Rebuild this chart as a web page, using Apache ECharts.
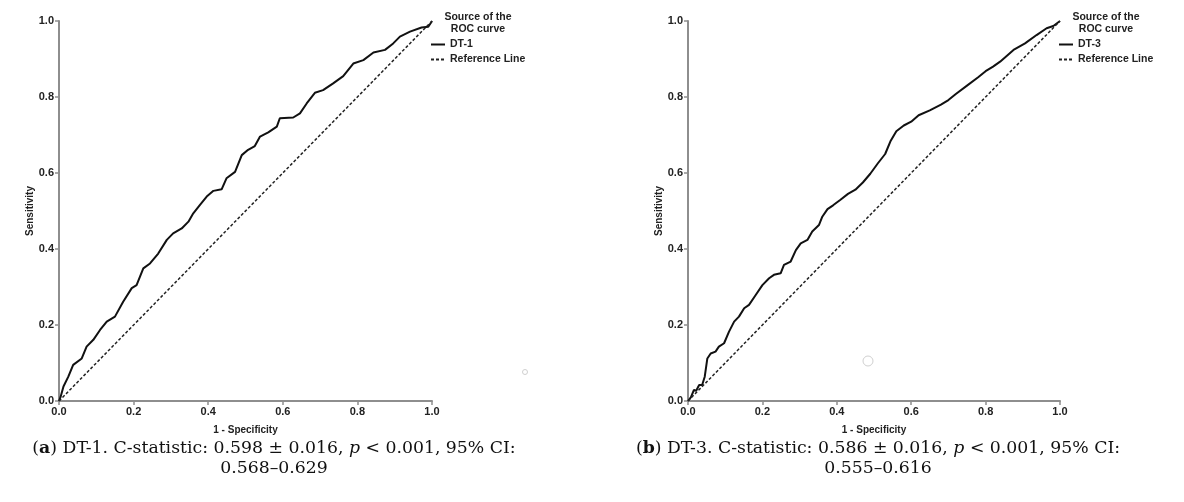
<!DOCTYPE html>
<html>
<head>
<meta charset="utf-8">
<script src="https://cdn.jsdelivr.net/npm/echarts@6/dist/echarts.min.js"></script>
<style>
  html, body { margin: 0; padding: 0; background: #fff; }
  #chart { width: 1184px; height: 502px; }
</style>
</head>
<body>
<div id="chart"></div>
<script>
// ROC curve of DT-1: false positive rate (1 - specificity) and sensitivity
const dt1Fpr = [0, 0.004, 0.012, 0.025, 0.038, 0.061, 0.074, 0.092, 0.110, 0.128, 0.150, 0.172, 0.195, 0.208, 0.226, 0.244, 0.266, 0.289, 0.306, 0.329, 0.347, 0.360, 0.378, 0.396, 0.414, 0.436, 0.449, 0.472, 0.490, 0.507, 0.525, 0.539, 0.561, 0.584, 0.592, 0.628, 0.646, 0.664, 0.686, 0.708, 0.735, 0.762, 0.789, 0.816, 0.843, 0.874, 0.896, 0.914, 0.941, 0.972, 0.990, 0.999, 1];
const dt1Tpr = [0, 0.010, 0.038, 0.064, 0.095, 0.112, 0.143, 0.161, 0.187, 0.209, 0.222, 0.261, 0.297, 0.305, 0.349, 0.362, 0.388, 0.424, 0.441, 0.454, 0.472, 0.494, 0.516, 0.538, 0.553, 0.557, 0.586, 0.603, 0.647, 0.661, 0.671, 0.696, 0.707, 0.722, 0.744, 0.746, 0.757, 0.783, 0.811, 0.818, 0.836, 0.855, 0.888, 0.897, 0.917, 0.924, 0.941, 0.959, 0.972, 0.983, 0.985, 0.998, 1];

// ROC curve of DT-3
const dt3Fpr = [0, 0.008, 0.016, 0.022, 0.030, 0.038, 0.045, 0.052, 0.061, 0.074, 0.083, 0.097, 0.110, 0.124, 0.137, 0.151, 0.164, 0.182, 0.200, 0.218, 0.231, 0.249, 0.258, 0.276, 0.290, 0.303, 0.321, 0.334, 0.352, 0.361, 0.375, 0.390, 0.409, 0.430, 0.450, 0.470, 0.490, 0.510, 0.530, 0.545, 0.560, 0.580, 0.600, 0.620, 0.650, 0.680, 0.700, 0.720, 0.750, 0.780, 0.800, 0.820, 0.839, 0.875, 0.906, 0.937, 0.964, 0.982, 1];
const dt3Tpr = [0, 0.010, 0.029, 0.027, 0.042, 0.042, 0.064, 0.112, 0.125, 0.130, 0.143, 0.152, 0.182, 0.209, 0.222, 0.244, 0.253, 0.279, 0.305, 0.323, 0.332, 0.336, 0.358, 0.367, 0.397, 0.415, 0.424, 0.446, 0.463, 0.485, 0.505, 0.515, 0.529, 0.545, 0.556, 0.575, 0.598, 0.625, 0.650, 0.685, 0.710, 0.725, 0.735, 0.752, 0.765, 0.780, 0.792, 0.808, 0.830, 0.852, 0.868, 0.880, 0.893, 0.924, 0.941, 0.963, 0.981, 0.987, 1];

// Chance diagonal
const refX = [0, 1];
const refY = [0, 1];

const axisTicks = [0, 0.2, 0.4, 0.6, 0.8, 1.0];

const captionA = ['a', 'DT-1. C-statistic: 0.598 ± 0.016, ', 'p', ' < 0.001, 95% CI:', '0.568–0.629'];
const captionB = ['b', 'DT-3. C-statistic: 0.586 ± 0.016, ', 'p', ' < 0.001, 95% CI:', '0.555–0.616'];

const zip = (xs, ys) => xs.map((x, i) => [x, ys[i]]);

const SANS = '"Liberation Sans", Arial, sans-serif';
const SERIF = '"DejaVu Serif", "Liberation Serif", serif';
const axisGrey = '#8e8e8e';

function valueAxis(gridIndex, isX) {
  return {
    type: 'value',
    gridIndex: gridIndex,
    min: axisTicks[0],
    max: axisTicks[axisTicks.length - 1],
    interval: 0.2,
    name: isX ? '1 - Specificity' : 'Sensitivity',
    nameLocation: 'middle',
    nameGap: isX ? 24 : 23,
    nameTextStyle: { fontFamily: SANS, fontWeight: 'bold', fontSize: 10, color: '#222' },
    axisLine: { show: true, lineStyle: { color: axisGrey, width: 2 } },
    axisTick: { show: true, length: 4, lineStyle: { color: axisGrey, width: 1.5 } },
    axisLabel: {
      margin: 5,
      fontFamily: SANS, fontWeight: 'bold', fontSize: 11, color: '#222',
      formatter: v => v.toFixed(1)
    },
    splitLine: { show: false }
  };
}

function rocSeries(name, idx, data) {
  return {
    name: name, type: 'line', xAxisIndex: idx, yAxisIndex: idx,
    data: data, showSymbol: false, symbol: 'none', silent: true,
    itemStyle: { color: '#111' },
    lineStyle: { color: '#111', width: 2 }
  };
}
function refSeries(idx) {
  return {
    name: 'Reference Line', type: 'line', xAxisIndex: idx, yAxisIndex: idx,
    data: zip(refX, refY), showSymbol: false, symbol: 'none', silent: true,
    itemStyle: { color: '#222' },
    lineStyle: { color: '#222', width: 1.5, type: [3, 2] }
  };
}

function legendBlock(left, names) {
  return {
    orient: 'vertical', left: left, top: 39, padding: 0,
    itemWidth: 14, itemHeight: 10, itemGap: 4,
    itemStyle: { opacity: 0 },
    data: names,
    textStyle: { fontFamily: SANS, fontWeight: 'bold', fontSize: 10.5, color: '#222' },
    selectedMode: false
  };
}

function caption(cx, parts) {
  return {
    type: 'text', x: cx, y: 439,
    style: {
      text: '({b|' + parts[0] + '}) ' + parts[1] + '{i|' + parts[2] + '}' + parts[3] + '\n' + parts[4],
      align: 'center', verticalAlign: 'top',
      fontFamily: SERIF, fontSize: 17.3, lineHeight: 19.5, fill: '#111',
      rich: {
        b: { fontFamily: SERIF, fontSize: 17.3, fontWeight: 'bold', fill: '#111' },
        i: { fontFamily: SERIF, fontSize: 17.3, fontStyle: 'italic', fill: '#111' }
      }
    }
  };
}

function legendTitle(cx) {
  return {
    type: 'text', x: cx, y: 11,
    style: {
      text: 'Source of the\nROC curve', align: 'center',
      fontFamily: SANS, fontWeight: 'bold', fontSize: 10.5, lineHeight: 12, fill: '#222'
    }
  };
}

const chart = echarts.init(document.getElementById('chart'), null, { renderer: 'canvas' });
chart.setOption({
  backgroundColor: '#fff',
  animation: false,
  grid: [
    { left: 59, top: 21, width: 373, height: 380 },
    { left: 688, top: 21, width: 372, height: 380 }
  ],
  xAxis: [valueAxis(0, true), valueAxis(1, true)],
  yAxis: [valueAxis(0, false), valueAxis(1, false)],
  legend: [legendBlock(430, ['DT-1', 'Reference Line']), legendBlock(1058, ['DT-3', 'Reference Line'])],
  series: [
    rocSeries('DT-1', 0, zip(dt1Fpr, dt1Tpr)),
    refSeries(0),
    rocSeries('DT-3', 1, zip(dt3Fpr, dt3Tpr)),
    refSeries(1)
  ],
  graphic: [
    legendTitle(478),
    legendTitle(1106),
    { type: 'circle', shape: { cx: 525, cy: 372, r: 2.5 }, style: { fill: 'none', stroke: '#d0d0d0', lineWidth: 1 } },
    { type: 'circle', shape: { cx: 868, cy: 361, r: 5 }, style: { fill: 'none', stroke: '#d0d0d0', lineWidth: 1 } },
    caption(274, captionA),
    caption(878, captionB)
  ]
});
</script>
</body>
</html>
